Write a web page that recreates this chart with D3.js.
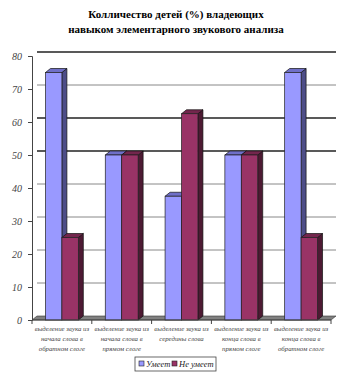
<!DOCTYPE html>
<html>
<head>
<meta charset="utf-8">
<script src="https://cdn.jsdelivr.net/npm/d3@7"></script>
</head>
<body style="margin:0;background:#fff">
<svg id="chart" width="352" height="377"></svg>
<script>
// data
const categories = [
  ["выделение звука из", "начала слова в", "обратном слоге"],
  ["выделение звука из", "начала слова в", "прямом слоге"],
  ["выделение звука из", "середины слова"],
  ["выделение звука из", "конца слова в", "прямом слоге"],
  ["выделение звука из", "конца слова в", "обратном слоге"]
];
const seriesNames = ["Умеет", "Не умеет"];
const canDo = [75, 50, 37.5, 50, 75];
const cannotDo = [25, 50, 62.5, 50, 25];
const yTicks = [0, 10, 20, 30, 40, 50, 60, 70, 80];

const svg = d3.select("#chart");
const serif = '"Liberation Serif"';
const front = ["#9999ff", "#993366"];
const side = ["#4d4d88", "#4d1a33"];
const topc = ["#6f6fc8", "#73264d"];
const dx = 5, dy = 4;

// title
["Колличество детей (%) владеющих", "навыком элементарного звукового анализа"].forEach((t, k) => {
    svg.append("text")
        .attr("x", 176).attr("y", 18 + k * 15)
        .attr("text-anchor", "middle")
        .style("font-family", serif).style("font-weight", "bold").style("font-size", "11px")
        .text(t);
});

let idx = d3.range(categories.length);
let x = d3.scaleBand().domain(idx).range([32, 331]);
let xs = d3.scaleBand().domain([0, 1]).range([0, x.bandwidth()]).paddingOuter(0.82);
let y = d3.scaleLinear().domain([0, 80]).range([320, 56]);

// back wall grid
svg.append("g").selectAll("line").data(yTicks.slice(1)).join("line")
    .attr("x1", 32 + dx).attr("x2", 331 + dx)
    .attr("y1", d => y(d) - dy).attr("y2", d => y(d) - dy)
    .attr("stroke", d => (d == 80 || d == 60 || d == 50) ? "#222" : "#888")
    .attr("stroke-width", d => (d == 80 || d == 60 || d == 50) ? 1.5 : 1);

// floor
svg.append("path")
    .attr("d", `M32,${y(0)} L${32 + dx},${y(0) - dy} L${331 + dx},${y(0) - dy} L331,${y(0)} Z`)
    .attr("fill", "#808080").attr("stroke", "#333").attr("stroke-width", 0.6);

// bars
let rows = [];
idx.forEach(i => {
    rows.push({ i: i, s: 0, v: canDo[i] });
    rows.push({ i: i, s: 1, v: cannotDo[i] });
});
let bars = svg.append("g").selectAll("g").data(rows).join("g");
bars.each(function(d) {
    let g = d3.select(this);
    let x0 = x(d.i) + xs(d.s), w = xs.bandwidth();
    let yt = y(d.v), yb = y(0);
    g.append("path")
        .attr("d", `M${x0 + w},${yt} L${x0 + w + dx},${yt - dy} L${x0 + w + dx},${yb - dy} L${x0 + w},${yb} Z`)
        .attr("fill", side[d.s]).attr("stroke", "#111").attr("stroke-width", 0.7);
    g.append("path")
        .attr("d", `M${x0},${yt} L${x0 + dx},${yt - dy} L${x0 + w + dx},${yt - dy} L${x0 + w},${yt} Z`)
        .attr("fill", topc[d.s]).attr("stroke", "#111").attr("stroke-width", 0.7);
    g.append("rect")
        .attr("x", x0).attr("y", yt).attr("width", w).attr("height", yb - yt)
        .attr("fill", front[d.s]).attr("stroke", "#222").attr("stroke-width", 0.7);
});

// y axis
let yAxis = svg.append("g")
    .attr("transform", "translate(32,0)")
    .call(d3.axisLeft(y).tickValues(yTicks).tickSize(4).tickPadding(6));
yAxis.select(".domain").attr("stroke", "#444");
yAxis.selectAll(".tick line").attr("stroke", "#444");
yAxis.selectAll("text")
    .style("font-family", serif).style("font-size", "10px").style("font-style", "italic")
    .attr("fill", "#444");

// x axis
svg.append("line")
    .attr("x1", 32).attr("x2", 331).attr("y1", y(0)).attr("y2", y(0))
    .attr("stroke", "#444");
svg.append("g").selectAll("line").data(idx.concat([categories.length])).join("line")
    .attr("x1", d => d < categories.length ? x(d) : x(d - 1) + x.bandwidth())
    .attr("x2", d => d < categories.length ? x(d) : x(d - 1) + x.bandwidth())
    .attr("y1", y(0)).attr("y2", y(0) + 4)
    .attr("stroke", "#444");

let labels = svg.append("g").selectAll("text").data(idx).join("text")
    .attr("text-anchor", "middle")
    .style("font-family", serif).style("font-size", "6.8px").style("font-style", "italic")
    .attr("fill", "#444");
labels.each(function(i) {
    d3.select(this).selectAll("tspan").data(categories[i]).join("tspan")
        .attr("x", x(i) + x.bandwidth() / 2)
        .attr("y", (d, k) => 331 + k * 10)
        .text(d => d);
});

// legend
let lg = svg.append("g");
lg.append("rect")
    .attr("x", 135).attr("y", 357).attr("width", 81).attr("height", 14)
    .attr("fill", "#fff").attr("stroke", "#444").attr("stroke-width", 0.8);
let lx = [139, 172];
seriesNames.forEach((n, k) => {
    lg.append("rect")
        .attr("x", lx[k]).attr("y", 361).attr("width", 5).attr("height", 5)
        .attr("fill", front[k]).attr("stroke", "#222").attr("stroke-width", 0.6);
    lg.append("text")
        .attr("x", lx[k] + 7).attr("y", 367)
        .style("font-family", serif).style("font-size", "8.5px").style("font-style", "italic")
        .attr("fill", "#222")
        .text(n);
});
</script>
</body>
</html>
